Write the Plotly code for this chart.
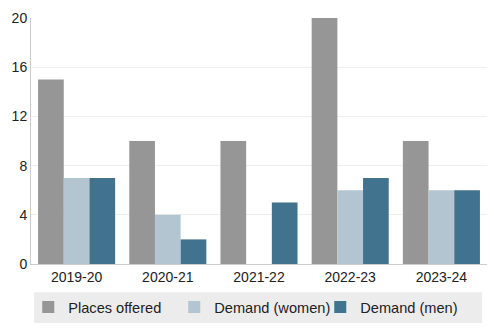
import plotly.graph_objects as go

categories = ["2019-20", "2020-21", "2021-22", "2022-23", "2023-24"]
places_offered = [15, 10, 10, 20, 10]
demand_women = [7, 4, 0, 6, 6]
demand_men = [7, 2, 5, 7, 6]
series_names = ["Places offered", "Demand (women)", "Demand (men)"]
colors = ["#969696", "#b3c5d0", "#41728e"]
y_ticks = [0, 4, 8, 12, 16, 20]

fig = go.Figure()
for name, vals, c in zip(series_names, [places_offered, demand_women, demand_men], colors):
    fig.add_trace(go.Bar(x=categories, y=vals, name=name, marker=dict(color=c, line=dict(width=0))))

fig.update_layout(
    width=494, height=334,
    margin=dict(l=31, r=7, t=18, b=70),
    paper_bgcolor="white", plot_bgcolor="white",
    barmode="group", bargap=0.155, bargroupgap=0,
    font=dict(family="Liberation Sans, Arial, sans-serif", size=14, color="#222"),
    showlegend=True,
    legend=dict(orientation="h", x=-0.006, xanchor="left", y=-0.175, yanchor="middle",
                bgcolor="rgba(0,0,0,0)", entrywidth=101, font=dict(size=14.6)),
    shapes=[dict(type="rect", xref="paper", yref="paper", x0=0.007, x1=0.989,
                 y0=-0.115, y1=-0.24, fillcolor="#ececec", line=dict(width=0), layer="below")],
)
fig.update_xaxes(showline=True, linecolor="#cccccc", linewidth=1, ticks="", tickfont=dict(size=14))
fig.update_yaxes(range=[0, 20], tickvals=y_ticks, showgrid=True, gridcolor="#eeeeee",
                 showline=True, linecolor="#cccccc", linewidth=1, zeroline=False,
                 ticks="", tickfont=dict(size=14))
fig.write_html("out.html")
